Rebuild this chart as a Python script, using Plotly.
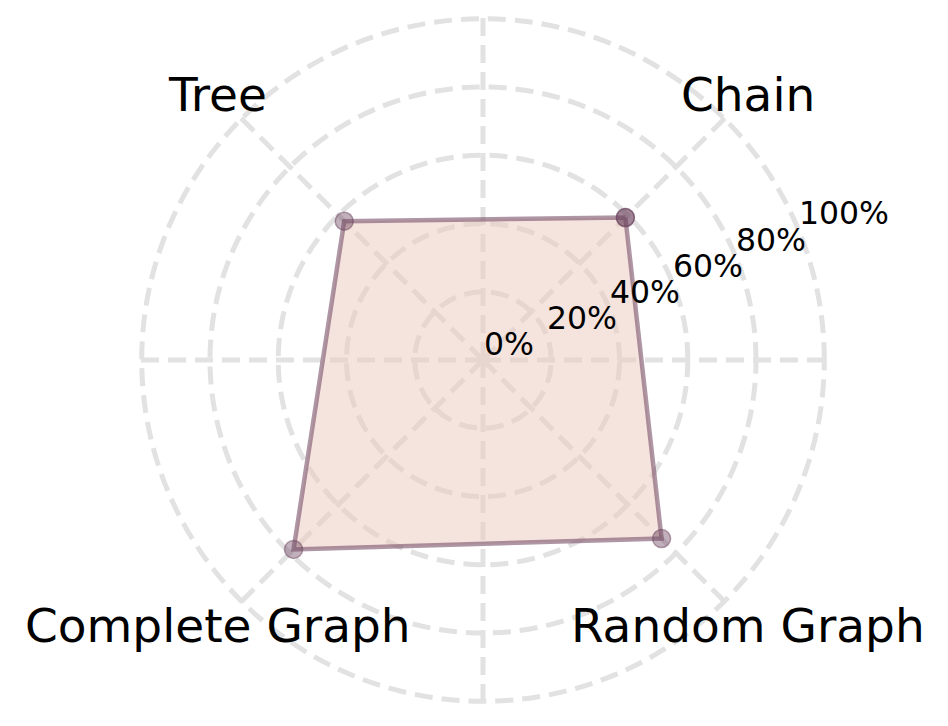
import math
import plotly.graph_objects as go

categories = ["Chain", "Tree", "Complete Graph", "Random Graph"]
values = [59, 57.5, 78.5, 74]
radial_ticks = [0, 20, 40, 60, 80, 100]
radial_ticktext = ["0%", "20%", "40%", "60%", "80%", "100%"]

W, H = 948, 726
OFF = 8  # page body margin
RAD = 343
CX, CY = 483, 360  # desired visual centre
L = CX - OFF - RAD
T = CY - OFF - RAD
pw = ph = 2 * RAD
R = W - L - pw
B = H - T - ph
RMAX = 100.5

angles = [45 + 90 * i for i in range(len(categories))]

fig = go.Figure()
fig.add_trace(go.Scatterpolar(
    r=values + values[:1],
    theta=angles + angles[:1],
    mode="lines+markers",
    fill="toself",
    fillcolor="rgba(236,200,188,0.5)",
    line=dict(color="rgba(120,80,105,0.6)", width=4.5),
    marker=dict(size=18, color="rgba(110,70,95,0.42)",
                line=dict(color="rgba(110,70,95,0.5)", width=1.5)),
    hoverinfo="skip",
    showlegend=False,
))

def to_paper(px, py):
    return (px - OFF - L) / pw, 1 - (py - OFF - T) / ph

annotations = []
label_r = 375
for cat, a in zip(categories, angles):
    px = CX + label_r * math.cos(math.radians(a))
    py = CY - label_r * math.sin(math.radians(a))
    x, y = to_paper(px, py)
    annotations.append(dict(x=x, y=y, xref="paper", yref="paper", text=cat,
                            showarrow=False, xanchor="center", yanchor="middle",
                            font=dict(family="DejaVu Sans", size=47, color="black")))

tick_angle = 22.5
for v, t in zip(radial_ticks, radial_ticktext):
    rr = v / RMAX * RAD
    px = CX + rr * math.cos(math.radians(tick_angle))
    py = CY - rr * math.sin(math.radians(tick_angle))
    x, y = to_paper(px, py)
    annotations.append(dict(x=x, y=y, xref="paper", yref="paper", text=t,
                            showarrow=False, xanchor="left", yanchor="bottom",
                            borderpad=0, yshift=-3,
                            font=dict(family="DejaVu Sans", size=31.5, color="black")))

grid = dict(gridcolor="#e2e2e2", gridwidth=4.5, griddash="18px,9px")
fig.update_layout(
    width=W, height=H,
    margin=dict(l=L, r=R, t=T, b=B),
    paper_bgcolor="white",
    polar=dict(
        bgcolor="white",
        radialaxis=dict(range=[0, RMAX], tickvals=radial_ticks[1:], showticklabels=False,
                        showline=False, ticks="", **grid),
        angularaxis=dict(tickmode="array", tickvals=list(range(0, 360, 45)),
                         showticklabels=False, showline=False, ticks="",
                         direction="counterclockwise", rotation=0, **grid),
    ),
    annotations=annotations,
)
fig.write_html("out.html")
